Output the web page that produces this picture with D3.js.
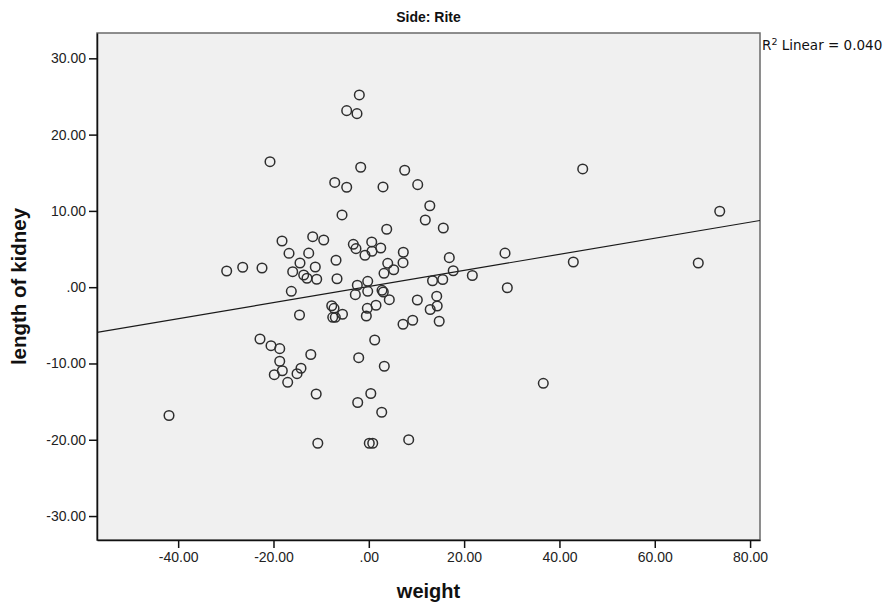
<!DOCTYPE html>
<html>
<head>
<meta charset="utf-8">
<script src="https://cdn.jsdelivr.net/npm/d3@7"></script>
<style>
  html, body { margin: 0; padding: 0; background: #ffffff; }
  svg { display: block; }
</style>
</head>
<body>
<svg id="chart" width="889" height="605"></svg>
<script>
// Kidney length vs weight (differences), side: Rite
const weight = [
  -1.99, -4.64, -2.48, -20.73, -1.70, 7.53, -7.15, -4.64, 2.98, 10.26,
  44.88, 12.80, 11.85, -5.62, 3.76, 15.63, 73.63, -29.82, -26.46, -22.41,
  -18.21, -16.74, -11.77, -9.46, -12.61, -14.44, -15.97, -13.66, -12.97, -11.23,
  -10.93, -6.88, -6.67, -16.26, -14.54, -7.78, -7.30, -7.57, -7.03, -5.52,
  -22.83, -20.52, -18.69, -18.69, -12.17, -18.15, -19.83, -14.23, -15.06, -17.02,
  -11.04, -3.25, -2.69, 0.61, 2.50, 0.67, -0.80, 7.24, 3.97, 7.18,
  3.19, 5.22, 16.89, 17.71, 21.72, 28.58, 13.37, 15.51, -2.41, -0.23,
  -2.83, -0.23, 2.77, 3.04, 4.30, 10.18, 14.25, 14.35, 12.88, 14.77,
  9.21, 7.18, 1.51, -0.31, -0.52, 1.24, -2.12, 3.25, 0.42, -2.33,
  2.71, -10.70, 0.10, 0.82, 8.37, -41.92, 42.91, 69.13, 29.06, 36.61
];
const kidneyLength = [
  25.20, 23.14, 22.75, 16.45, 15.72, 15.33, 13.73, 13.10, 13.14, 13.44,
  15.50, 10.68, 8.81, 9.47, 7.59, 7.76, 9.95, 2.12, 2.61, 2.52,
  6.06, 4.44, 6.62, 6.19, 4.46, 3.17, 2.03, 1.60, 1.17, 2.65,
  1.04, 3.53, 1.11, -0.54, -3.64, -2.43, -2.77, -3.95, -3.95, -3.55,
  -6.79, -7.67, -8.06, -9.71, -8.82, -10.95, -11.47, -10.63, -11.34, -12.47,
  -14.00, 5.62, 5.05, 5.93, 5.14, 4.71, 4.18, 4.58, 3.13, 3.21,
  1.82, 2.29, 3.87, 2.16, 1.53, 4.46, 0.85, 1.01, 0.25, 0.77,
  -0.98, -0.54, -0.41, -0.63, -1.64, -1.68, -1.18, -2.46, -2.92, -4.47,
  -4.34, -4.86, -2.37, -2.77, -3.78, -6.92, -9.24, -10.37, -13.94, -15.12,
  -16.40, -20.46, -20.46, -20.46, -19.99, -16.82, 3.30, 3.17, -0.07, -12.60
];

const xTickValues = [-40, -20, 0, 20, 40, 60, 80];
const xTickLabels = ["-40.00", "-20.00", ".00", "20.00", "40.00", "60.00", "80.00"];
const yTickValues = [-30, -20, -10, 0, 10, 20, 30];
const yTickLabels = ["-30.00", "-20.00", "-10.00", ".00", "10.00", "20.00", "30.00"];

const chartTitle = "Side: Rite";
const xTitle = "weight";
const yTitle = "length of kidney";
const fitLabel = "0.040";

const xDomain = [-57.03, 82.08];
const yDomain = [-33.14, 33.32];

const plot = { left: 97, right: 760, top: 33, bottom: 540 };

const svg = d3.select("#chart");

const x = d3.scaleLinear().domain(xDomain).range([plot.left, plot.right]);
const y = d3.scaleLinear().domain(yDomain).range([plot.bottom, plot.top]);

// plot background and frame
svg.append("rect")
  .attr("x", plot.left).attr("y", plot.top)
  .attr("width", plot.right - plot.left).attr("height", plot.bottom - plot.top)
  .attr("fill", "#f0f0f0")
  .attr("stroke", "#6a6a6a")
  .attr("stroke-width", 1.5);

svg.append("defs").append("clipPath").attr("id", "plotClip")
  .append("rect")
  .attr("x", plot.left).attr("y", plot.top)
  .attr("width", plot.right - plot.left).attr("height", plot.bottom - plot.top);

// least-squares fit line
const points = weight.map((w, i) => ({ w, k: kidneyLength[i] }));
const mx = d3.mean(weight), my = d3.mean(kidneyLength);
const sxy = d3.sum(points, p => (p.w - mx) * (p.k - my));
const sxx = d3.sum(points, p => (p.w - mx) * (p.w - mx));
const slope = sxy / sxx;
const intercept = my - slope * mx;

svg.append("line")
  .attr("clip-path", "url(#plotClip)")
  .attr("x1", x(xDomain[0])).attr("y1", y(intercept + slope * xDomain[0]))
  .attr("x2", x(xDomain[1])).attr("y2", y(intercept + slope * xDomain[1]))
  .attr("stroke", "#1a1a1a")
  .attr("stroke-width", 1.2);

// points
svg.append("g")
  .attr("clip-path", "url(#plotClip)")
  .selectAll("circle")
  .data(points)
  .join("circle")
  .attr("cx", d => x(d.w))
  .attr("cy", d => y(d.k))
  .attr("r", 4.8)
  .attr("fill", "none")
  .attr("stroke", "#2e2e2e")
  .attr("stroke-width", 1.5);

// axes
const xAxis = d3.axisBottom(x)
  .tickValues(xTickValues)
  .tickFormat((d, i) => xTickLabels[i])
  .tickSize(8)
  .tickSizeOuter(0)
  .tickPadding(4);
const yAxis = d3.axisLeft(y)
  .tickValues(yTickValues)
  .tickFormat((d, i) => yTickLabels[i])
  .tickSize(8)
  .tickSizeOuter(0)
  .tickPadding(3);

const gx = svg.append("g")
  .attr("transform", `translate(0,${plot.bottom})`)
  .call(xAxis);
const gy = svg.append("g")
  .attr("transform", `translate(${plot.left},0)`)
  .call(yAxis);

[gx, gy].forEach(g => {
  g.select(".domain").attr("stroke", "#111").attr("stroke-width", 1.5);
  g.selectAll(".tick line").attr("stroke", "#111").attr("stroke-width", 1.5);
  g.selectAll(".tick text")
    .attr("fill", "#222")
    .style("font-family", "'Liberation Sans', Arial, sans-serif")
    .style("font-size", "14px");
});

// titles
svg.append("text")
  .attr("x", (plot.left + plot.right) / 2)
  .attr("y", 22)
  .attr("text-anchor", "middle")
  .style("font-family", "'Liberation Sans', Arial, sans-serif")
  .style("font-weight", "bold")
  .style("font-size", "14px")
  .attr("fill", "#111")
  .text(chartTitle);

svg.append("text")
  .attr("x", (plot.left + plot.right) / 2)
  .attr("y", 598)
  .attr("text-anchor", "middle")
  .style("font-family", "'Liberation Sans', Arial, sans-serif")
  .style("font-weight", "bold")
  .style("font-size", "20px")
  .attr("fill", "#111")
  .text(xTitle);

svg.append("text")
  .attr("transform", `translate(26,${(plot.top + plot.bottom) / 2}) rotate(-90)`)
  .attr("text-anchor", "middle")
  .style("font-family", "'Liberation Sans', Arial, sans-serif")
  .style("font-weight", "bold")
  .style("font-size", "20.5px")
  .attr("fill", "#111")
  .text(yTitle);

// fit annotation
const fitText = svg.append("text")
  .attr("x", plot.right + 2)
  .attr("y", 50)
  .style("font-family", "'DejaVu Sans', Verdana, sans-serif")
  .style("font-size", "13.5px")
  .attr("fill", "#111");
fitText.append("tspan").text("R");
fitText.append("tspan").attr("dy", -5).style("font-size", "9.5px").text("2");
fitText.append("tspan").attr("dy", 5).text(" Linear = " + fitLabel);
</script>
</body>
</html>
